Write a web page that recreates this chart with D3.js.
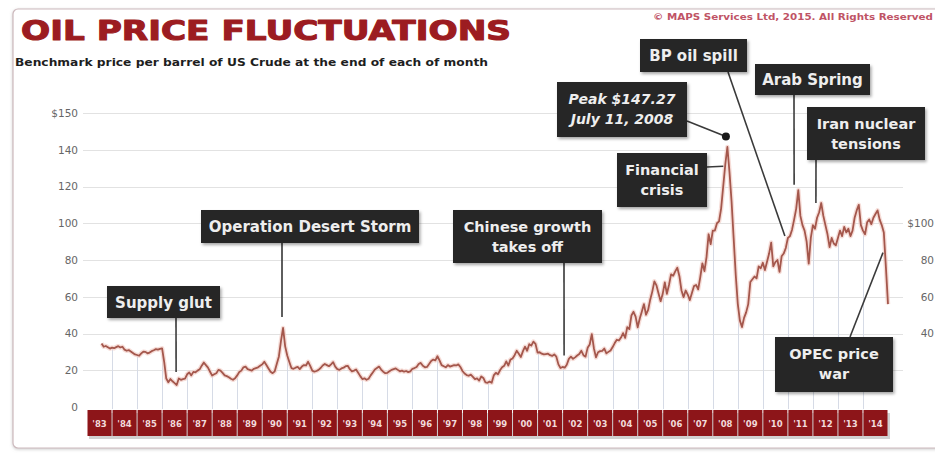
<!DOCTYPE html>
<html>
<head>
<meta charset="utf-8">
<script src="https://cdn.jsdelivr.net/npm/d3@7"></script>
<style>
  body { margin: 0; background: #fff; }
  svg { display: block; }
</style>
</head>
<body>
<svg id="chart" width="935" height="454"></svg>
<script>
// Month-end WTI crude price (USD/barrel). 1983 starts with July.
const y1983 = [34.5, 32.8, 33.2, 32.5, 31.8, 32.3];
const y1984 = [32.0, 32.6, 33.1, 32.4, 32.8, 31.2, 30.6, 31.0, 30.2, 29.4, 28.6, 28.3];
const y1985 = [27.9, 29.2, 30.1, 30.0, 29.2, 29.6, 30.4, 30.9, 31.5, 31.2, 31.6, 31.9];
const y1986 = [24.5, 15.5, 13.5, 15.2, 14.0, 13.0, 12.0, 15.5, 14.8, 15.2, 15.4, 17.8];
const y1987 = [18.8, 17.2, 19.1, 18.9, 19.8, 20.5, 22.5, 24.2, 22.8, 21.4, 19.2, 17.1];
const y1988 = [17.8, 18.4, 20.2, 19.8, 18.6, 17.2, 16.8, 16.2, 15.4, 14.8, 15.6, 17.2];
const y1989 = [19.0, 19.8, 21.6, 22.0, 20.6, 20.2, 19.8, 20.8, 21.2, 21.6, 22.4, 23.2];
const y1990 = [24.6, 22.8, 21.0, 19.2, 18.4, 19.4, 23.5, 27.5, 36.0, 43.0, 33.0, 28.0];
const y1991 = [24.5, 21.2, 20.8, 21.4, 21.8, 20.6, 22.0, 22.8, 22.6, 24.6, 22.4, 19.8];
const y1992 = [19.2, 19.6, 20.2, 21.2, 22.6, 23.4, 22.8, 22.2, 23.2, 24.4, 22.0, 20.6];
const y1993 = [20.2, 21.0, 21.4, 22.2, 22.4, 20.6, 19.4, 19.8, 20.4, 18.6, 16.8, 15.2];
const y1994 = [15.6, 14.8, 15.4, 17.2, 18.8, 20.4, 21.2, 22.0, 20.4, 19.2, 18.4, 18.6];
const y1995 = [19.4, 20.2, 20.6, 21.0, 20.2, 19.4, 19.8, 19.2, 19.6, 19.0, 19.4, 20.8];
const y1996 = [21.2, 21.8, 23.4, 24.0, 22.4, 21.6, 21.8, 23.4, 25.0, 25.8, 25.4, 27.6];
const y1997 = [25.4, 22.8, 22.2, 21.6, 22.8, 22.0, 22.4, 22.8, 22.6, 23.2, 21.8, 19.6];
const y1998 = [18.2, 17.4, 17.0, 17.6, 16.4, 15.2, 15.6, 14.4, 16.6, 15.8, 13.4, 13.2];
const y1999 = [13.8, 13.2, 17.2, 18.6, 17.8, 20.0, 21.6, 22.4, 24.8, 22.6, 25.8, 26.4];
const y2000 = [28.2, 30.6, 29.0, 27.2, 30.4, 32.8, 30.6, 34.2, 33.4, 35.6, 34.4, 29.6];
const y2001 = [29.8, 29.0, 28.6, 28.8, 29.0, 28.2, 27.8, 28.6, 27.4, 23.2, 21.2, 21.8];
const y2002 = [21.4, 23.0, 26.2, 27.4, 26.2, 27.0, 28.0, 28.8, 30.6, 28.2, 27.4, 32.2];
const y2003 = [34.0, 39.6, 32.0, 27.0, 29.8, 30.4, 30.6, 31.8, 29.2, 30.0, 30.8, 32.6];
const y2004 = [34.8, 36.6, 36.2, 37.8, 40.2, 37.6, 43.4, 42.4, 49.8, 51.8, 49.2, 43.4];
const y2005 = [48.2, 52.0, 56.0, 50.2, 52.8, 58.4, 62.8, 68.4, 66.2, 61.8, 57.6, 61.6];
const y2006 = [67.8, 61.6, 66.4, 72.2, 71.4, 73.8, 75.8, 71.2, 63.4, 59.8, 63.4, 61.2];
const y2007 = [58.2, 62.0, 65.8, 66.4, 64.0, 70.6, 78.2, 74.0, 81.6, 94.0, 88.6, 96.0];
const y2008 = [96.0, 100.0, 101.0, 108.0, 120.0, 132.0, 141.5, 128.0, 112.0, 92.0, 72.0, 56.0];
const y2009 = [47.0, 43.5, 48.5, 51.5, 56.0, 68.0, 69.5, 71.0, 70.0, 76.5, 75.5, 78.5];
const y2010 = [74.5, 79.0, 83.5, 89.5, 76.5, 78.8, 80.0, 73.5, 82.0, 83.5, 86.5, 92.0];
const y2011 = [93.0, 96.5, 102.0, 108.0, 118.0, 104.0, 99.0, 96.0, 90.0, 78.0, 92.0, 99.0];
const y2012 = [97.0, 103.0, 106.0, 111.0, 104.0, 99.0, 94.0, 87.0, 92.0, 89.0, 88.0, 92.0];
const y2013 = [96.0, 93.0, 98.0, 95.0, 97.0, 93.0, 96.0, 103.0, 107.0, 110.0, 99.0, 96.0];
const y2014 = [94.0, 100.5, 102.0, 99.5, 103.0, 105.0, 107.0, 102.0, 99.0, 95.0, 76.0, 56.0];

const priceYears = [
  [1983, y1983], [1984, y1984], [1985, y1985], [1986, y1986], [1987, y1987],
  [1988, y1988], [1989, y1989], [1990, y1990], [1991, y1991], [1992, y1992],
  [1993, y1993], [1994, y1994], [1995, y1995], [1996, y1996], [1997, y1997],
  [1998, y1998], [1999, y1999], [2000, y2000], [2001, y2001], [2002, y2002],
  [2003, y2003], [2004, y2004], [2005, y2005], [2006, y2006], [2007, y2007],
  [2008, y2008], [2009, y2009], [2010, y2010], [2011, y2011], [2012, y2012],
  [2013, y2013], [2014, y2014]
];

const yearLabels = ["'83","'84","'85","'86","'87","'88","'89","'90","'91","'92","'93",
  "'94","'95","'96","'97","'98","'99","'00","'01","'02","'03","'04","'05","'06","'07",
  "'08","'09","'10","'11","'12","'13","'14"];

const yTickValues = [0, 20, 40, 60, 80, 100, 120, 140, 160];
const yTickLabels = ["0", "20", "40", "60", "80", "100", "120", "140", "$150"];
const rightTickValues = [40, 60, 80, 100];
const rightTickLabels = ["40", "60", "80", "$100"];

const peakDate = new Date(2008, 6, 11);
const peakValue = 147.27;

// Event call-outs: text, event date (decimal year) and price where the leader ends
const events = [
  { lines: ["Supply glut"], at: 1986.56, price: 19 },
  { lines: ["Operation Desert Storm"], at: 1990.79, price: 49 },
  { lines: ["Chinese growth", "takes off"], at: 2002.06, price: 28 },
  { lines: ["Financial", "crisis"], at: 2008.42, price: 131 },
  { lines: ["BP oil spill"], at: 2010.88, price: 93 },
  { lines: ["Arab Spring"], at: 2011.25, price: 121 },
  { lines: ["Iran nuclear", "tensions"], at: 2012.12, price: 111 },
  { lines: ["OPEC price", "war"], at: 2014.8, price: 84 }
];

// ---- layout ----
const plot = { left: 87, right: 888, top: 113, bottom: 407 };
const FONT = "'DejaVu Sans', 'Liberation Sans', Arial, sans-serif";

const svg = d3.select("#chart");
const defs = svg.append("defs");
const sh = defs.append("filter").attr("id", "shadow")
  .attr("x", "-10%").attr("y", "-20%").attr("width", "130%").attr("height", "160%");
sh.append("feDropShadow").attr("dx", 1.5).attr("dy", 2).attr("stdDeviation", 1.4)
  .attr("flood-color", "#000").attr("flood-opacity", 0.35);
const soft = defs.append("filter").attr("id", "frameShadow")
  .attr("x", "-5%").attr("y", "-5%").attr("width", "110%").attr("height", "110%");
soft.append("feDropShadow").attr("dx", 0).attr("dy", 1).attr("stdDeviation", 1.5)
  .attr("flood-color", "#999").attr("flood-opacity", 0.5);

// outer card
svg.append("rect").attr("x", 13).attr("y", 9).attr("width", 935).attr("height", 439)
  .attr("rx", 5).attr("fill", "#fff").attr("stroke", "#cdb9bd").attr("stroke-width", 1.2)
  .attr("filter", "url(#frameShadow)");

// headings
svg.append("text").attr("x", 21).attr("y", 40)
  .attr("font-family", FONT).attr("font-weight", "bold").attr("font-size", 27)
  .attr("textLength", 490).attr("lengthAdjust", "spacingAndGlyphs")
  .attr("fill", "#9c1c21").attr("stroke", "#9c1c21").attr("stroke-width", 1.1)
  .attr("stroke-linejoin", "round").text("OIL PRICE FLUCTUATIONS");
svg.append("text").attr("x", 15).attr("y", 66)
  .attr("font-family", FONT).attr("font-weight", "bold").attr("font-size", 10)
  .attr("textLength", 473).attr("lengthAdjust", "spacingAndGlyphs")
  .attr("fill", "#1e1e1e").text("Benchmark price per barrel of US Crude at the end of each of month");
svg.append("text").attr("x", 653).attr("y", 20)
  .attr("font-family", FONT).attr("font-weight", "bold").attr("font-size", 8.5)
  .attr("textLength", 280).attr("lengthAdjust", "spacingAndGlyphs")
  .attr("fill", "#bf5466").text("\u00A9 MAPS Services Ltd, 2015. All Rights Reserved");

// scales
const x = d3.scaleLinear().domain([1983, 2015]).range([plot.left, plot.right]);
const y = d3.scaleLinear().domain([0, 160]).range([plot.bottom, plot.top]);

// series points at month ends
const points = [];
priceYears.forEach(([yr, vals]) => {
  const offset = yr === 1983 ? 6 : 0;
  vals.forEach((v, i) => points.push({ t: yr + (offset + i + 1) / 12, v }));
});

// horizontal grid
svg.append("g").selectAll("line")
  .data(yTickValues.filter(d => d > 0)).join("line")
  .attr("x1", 83).attr("x2", 903)
  .attr("y1", d => Math.round(y(d)) + 0.5).attr("y2", d => Math.round(y(d)) + 0.5)
  .attr("stroke", "#e2e2e2").attr("stroke-width", 1);

// left axis
const leftAxis = svg.append("g").attr("transform", "translate(78,0)")
  .call(d3.axisLeft(y).tickValues(yTickValues).tickFormat((d, i) => yTickLabels[i])
    .tickSize(0).tickPadding(0));
leftAxis.select(".domain").remove();
leftAxis.selectAll("text").attr("font-family", FONT).attr("font-size", 10.5).attr("fill", "#666");

// right axis at the card edge
const rightAxis = svg.append("g").attr("transform", "translate(934,0)")
  .call(d3.axisLeft(y).tickValues(rightTickValues).tickFormat((d, i) => rightTickLabels[i])
    .tickSize(0).tickPadding(0));
rightAxis.select(".domain").remove();
rightAxis.selectAll("text").attr("font-family", FONT).attr("font-size", 10.5).attr("fill", "#666");

// drop lines at each year boundary, from baseline up to the price line
const yearStarts = d3.range(1984, 2015);
const valueAt = t => {
  const i = d3.bisector(d => d.t).left(points, t);
  if (i <= 0) return points[0].v;
  if (i >= points.length) return points[points.length - 1].v;
  const a = points[i - 1], b = points[i];
  return a.v + (b.v - a.v) * (t - a.t) / (b.t - a.t);
};
svg.append("g").selectAll("line").data(yearStarts).join("line")
  .attr("x1", d => Math.round(x(d)) + 0.5).attr("x2", d => Math.round(x(d)) + 0.5)
  .attr("y1", y(0) + 2).attr("y2", d => y(valueAt(d)))
  .attr("stroke", "#d6dbe6").attr("stroke-width", 1);

// year boxes along the bottom
const years = d3.range(1983, 2015);
const xg = svg.append("g");
xg.selectAll("rect.sh").data(years).join("rect")
  .attr("x", d => x(d) + 2).attr("y", 413)
  .attr("width", d => x(d + 1) - x(d)).attr("height", 26)
  .attr("fill", "#000").attr("opacity", 0.18);
xg.selectAll("rect.yr").data(years).join("rect")
  .attr("x", d => x(d) + 0.5).attr("y", 410)
  .attr("width", d => x(d + 1) - x(d) - 1).attr("height", 26)
  .attr("fill", "#8d1519");
xg.selectAll("text").data(years).join("text")
  .attr("x", d => (x(d) + x(d + 1)) / 2).attr("y", 426.5)
  .attr("text-anchor", "middle")
  .attr("font-family", FONT).attr("font-weight", "bold").attr("font-size", 8.5)
  .attr("fill", "#f2dada").text((d, i) => yearLabels[i]);

// price line with a soft halo
const line = d3.line().x(d => x(d.t)).y(d => y(d.v));
svg.append("path").datum(points).attr("d", line)
  .attr("fill", "none").attr("stroke", "#f2cfc8").attr("stroke-width", 4.5)
  .attr("stroke-linejoin", "round").attr("opacity", 0.7);
svg.append("path").datum(points).attr("d", line)
  .attr("fill", "none").attr("stroke", "#a4574c").attr("stroke-width", 1.8)
  .attr("stroke-linejoin", "round");

// call-out boxes: [left, top, width, height] and where the leader leaves the box
const boxLayout = [
  { box: [107, 286, 113, 32], from: "bottom", lx: 176 },
  { box: [201, 210, 218, 33], from: "bottom", lx: 282 },
  { box: [453, 210, 149, 53], from: "bottom", lx: 564 },
  { box: [617, 153, 90, 54], from: "right", ly: 167 },
  { box: [640, 39, 107, 33], from: "bottom", lx: 728 },
  { box: [755, 64, 115, 31], from: "bottom", lx: 794 },
  { box: [807, 107, 118, 53], from: "bottom", lx: 816 },
  { box: [775, 337, 118, 55], from: "top", lx: 850 }
];

const notes = svg.append("g");
events.forEach((ev, i) => {
  const L = boxLayout[i];
  const [bx, by, bw, bh] = L.box;
  let sx, sy;
  if (L.from === "bottom") { sx = L.lx; sy = by + bh; }
  else if (L.from === "top") { sx = L.lx; sy = by; }
  else { sx = bx + bw; sy = L.ly; }
  notes.append("line").attr("x1", sx).attr("y1", sy)
    .attr("x2", x(ev.at)).attr("y2", y(ev.price))
    .attr("stroke", "#3a3a3a").attr("stroke-width", 1.6);
});
events.forEach((ev, i) => {
  const [bx, by, bw, bh] = boxLayout[i].box;
  notes.append("rect").attr("x", bx).attr("y", by).attr("width", bw).attr("height", bh)
    .attr("fill", "#262626").attr("filter", "url(#shadow)");
  const fs = ev.lines.length > 1 ? 14.5 : 15;
  const first = ev.lines.length > 1 ? by + 22 : by + bh / 2 + 5.5;
  ev.lines.forEach((t, j) => {
    notes.append("text").attr("x", bx + bw / 2).attr("y", first + j * 20)
      .attr("text-anchor", "middle").attr("font-family", FONT).attr("font-weight", "bold")
      .attr("font-size", fs).attr("fill", "#eeeeee").text(t);
  });
});

// peak marker and its label
const yearStart = d3.timeYear.floor(peakDate);
const peakT = 2008 + (peakDate - yearStart) / (d3.timeYear.offset(yearStart, 1) - yearStart);
const pk = [557, 82, 130, 55];
notes.append("line").attr("x1", pk[0] + pk[2]).attr("y1", 121)
  .attr("x2", x(peakT)).attr("y2", y(peakValue))
  .attr("stroke", "#3a3a3a").attr("stroke-width", 1.6);
notes.append("rect").attr("x", pk[0]).attr("y", pk[1]).attr("width", pk[2]).attr("height", pk[3])
  .attr("fill", "#262626").attr("filter", "url(#shadow)");
["Peak $" + peakValue.toFixed(2), "July 11, 2008"].forEach((t, j) => {
  notes.append("text").attr("x", pk[0] + pk[2] / 2).attr("y", pk[1] + 22 + j * 20)
    .attr("text-anchor", "middle").attr("font-family", FONT).attr("font-weight", "bold")
    .attr("font-style", "italic").attr("font-size", 14).attr("fill", "#eeeeee").text(t);
});
notes.append("circle").attr("cx", x(peakT)).attr("cy", y(peakValue)).attr("r", 4)
  .attr("fill", "#1a1a1a");
</script>
</body>
</html>
